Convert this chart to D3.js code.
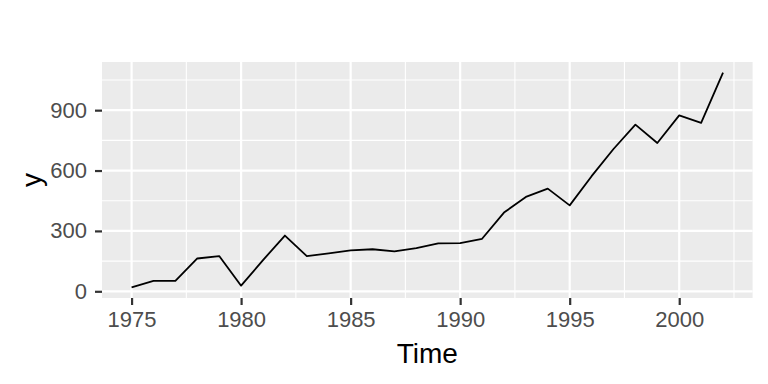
<!DOCTYPE html>
<html>
<head>
<meta charset="utf-8">
<script src="https://cdn.jsdelivr.net/npm/d3@7"></script>
<style>
  body { margin: 0; background: #fff; }
  svg { display: block; font-family: "Liberation Sans", Arial, sans-serif; }
</style>
</head>
<body>
<div id="chart"></div>
<script>
// yearly series
const years = [1975, 1976, 1977, 1978, 1979, 1980, 1981, 1982, 1983, 1984,
               1985, 1986, 1987, 1988, 1989, 1990, 1991, 1992, 1993, 1994,
               1995, 1996, 1997, 1998, 1999, 2000, 2001, 2002];
const values = [20, 52, 52, 163, 175, 28, 155, 277, 175, 188,
                203, 209, 198, 214, 238, 239, 261, 391, 469, 510,
                427, 572, 707, 828, 737, 874, 837, 1086];
const xTicks = [1975, 1980, 1985, 1990, 1995, 2000];
const xMinor = [1977.5, 1982.5, 1987.5, 1992.5, 1997.5, 2002.5];
const yTicks = [0, 300, 600, 900];
const yMinor = [150, 450, 750, 1050];

const width = 768, height = 384;
const margin = { top: 62, right: 15.4, bottom: 86, left: 102 };
const innerW = width - margin.left - margin.right;
const innerH = height - margin.top - margin.bottom;

const data = years.map((yr, i) => ({ year: yr, value: values[i] }));

// ggplot-style 5% expansion on both axes
function expand(ext) {
    const pad = (ext[1] - ext[0]) * 0.05;
    return [ext[0] - pad, ext[1] + pad];
}

const x = d3.scaleLinear().domain(expand(d3.extent(years))).range([0, innerW]);
const y = d3.scaleLinear().domain(expand(d3.extent(values))).range([innerH, 0]);

const svg = d3.select("#chart").append("svg")
    .attr("width", width)
    .attr("height", height);

const g = svg.append("g").attr("transform", `translate(${margin.left},${margin.top})`);

// panel background
g.append("rect")
    .attr("width", innerW)
    .attr("height", innerH)
    .attr("fill", "#EBEBEB");

// minor grid
g.selectAll(".xminor").data(xMinor).enter().append("line")
    .attr("x1", d => x(d)).attr("x2", d => x(d))
    .attr("y1", 0).attr("y2", innerH)
    .attr("stroke", "#fff").attr("stroke-width", 1.1);
g.selectAll(".yminor").data(yMinor).enter().append("line")
    .attr("y1", d => y(d)).attr("y2", d => y(d))
    .attr("x1", 0).attr("x2", innerW)
    .attr("stroke", "#fff").attr("stroke-width", 1.1);

// major grid
g.selectAll(".xmajor").data(xTicks).enter().append("line")
    .attr("x1", d => x(d)).attr("x2", d => x(d))
    .attr("y1", 0).attr("y2", innerH)
    .attr("stroke", "#fff").attr("stroke-width", 2.2);
g.selectAll(".ymajor").data(yTicks).enter().append("line")
    .attr("y1", d => y(d)).attr("y2", d => y(d))
    .attr("x1", 0).attr("x2", innerW)
    .attr("stroke", "#fff").attr("stroke-width", 2.2);

// the series
const line = d3.line()
    .x(d => x(d.year))
    .y(d => y(d.value));

g.append("path")
    .datum(data)
    .attr("d", line)
    .attr("fill", "none")
    .attr("stroke", "#000")
    .attr("stroke-width", 1.8)
    .attr("stroke-linejoin", "round");

// axes
const xAxis = g.append("g")
    .attr("transform", `translate(0,${innerH})`)
    .call(d3.axisBottom(x).tickValues(xTicks).tickFormat(d3.format("d")).tickSize(7).tickPadding(6));
const yAxis = g.append("g")
    .call(d3.axisLeft(y).tickValues(yTicks).tickSize(7).tickPadding(8));

[xAxis, yAxis].forEach(ax => {
    ax.select(".domain").remove();
    ax.selectAll(".tick line").attr("stroke", "#333").attr("stroke-width", 2.2);
    ax.selectAll(".tick text")
        .attr("fill", "#4D4D4D")
        .style("font-size", "22px")
        .style("font-family", "'Liberation Sans', Arial, sans-serif");
});

// axis titles
svg.append("text")
    .attr("x", margin.left + innerW / 2)
    .attr("y", 363)
    .attr("text-anchor", "middle")
    .style("font-size", "28px")
    .attr("fill", "#000")
    .text("Time");

svg.append("text")
    .attr("transform", `translate(41,${margin.top + innerH / 2}) rotate(-90)`)
    .attr("text-anchor", "middle")
    .style("font-size", "28px")
    .attr("fill", "#000")
    .text("y");
</script>
</body>
</html>
